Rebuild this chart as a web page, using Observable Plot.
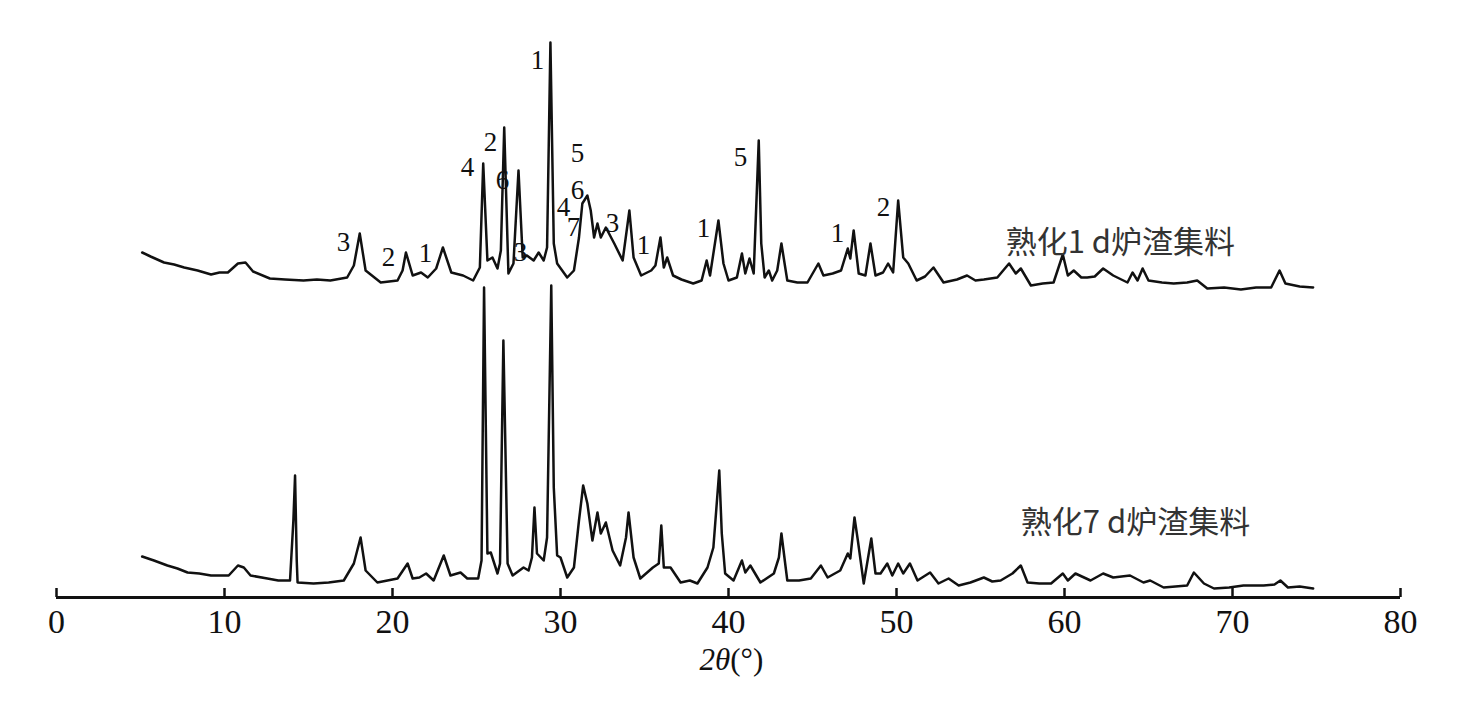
<!DOCTYPE html>
<html>
<head>
<meta charset="utf-8">
<script src="https://cdn.jsdelivr.net/npm/d3@7"></script>
<script src="https://cdn.jsdelivr.net/npm/@observablehq/plot@0.6"></script>
<style>
  body { margin: 0; background: #fff; }
  #chart svg { display: block; background: #fff; }
</style>
</head>
<body>
<div id="chart"></div>
<script>
// ---- Data ----
// 2θ positions (degrees) and intensities (a.u.) of the 1-day sample
const day1X = [5.1,5.6,6.4,7.0,7.6,8.4,9.2,9.7,10.2,10.8,11.25,11.7,12.7,13.6,14.7,15.5,16.3,17.3,17.7,18.05,18.4,19.3,20.3,20.6,20.8,21.2,21.7,22.1,22.6,23.0,23.5,24.2,24.8,25.2,25.4,25.65,25.95,26.25,26.45,26.65,26.9,27.2,27.5,27.75,28.0,28.4,28.7,29.0,29.2,29.4,29.6,29.8,30.4,30.8,31.1,31.3,31.6,31.8,32.0,32.2,32.4,32.7,33.2,33.7,34.1,34.35,34.8,35.4,35.65,35.95,36.15,36.35,36.7,37.2,37.9,38.4,38.7,38.9,39.4,39.7,40.0,40.5,40.8,41.0,41.25,41.5,41.8,41.95,42.15,42.4,42.6,42.9,43.15,43.5,44.1,44.7,45.35,45.65,46.2,46.7,47.1,47.25,47.45,47.75,48.15,48.45,48.75,49.2,49.5,49.8,50.1,50.4,50.7,51.2,51.7,52.2,52.8,53.6,54.2,54.7,55.2,56.0,56.7,57.1,57.4,58.0,58.7,59.35,59.9,60.2,60.55,61.0,61.35,61.8,62.3,62.9,63.75,64.05,64.35,64.65,65.0,65.8,66.5,67.3,67.9,68.5,69.5,70.5,71.4,72.3,72.8,73.15,74.0,74.8];
const day1I = [35,31,25,23,20,17,13,15,15,24,25,16,9,8,7,8,7,10,22,54,17,5,7,17,35,12,15,10,19,40,15,12,7,20,124,27,30,19,37,160,14,24,117,30,32,27,35,27,40,245,44,24,10,17,50,84,92,77,50,64,50,60,44,27,77,30,12,17,22,50,20,30,12,8,4,7,27,12,67,24,7,10,34,14,29,14,147,44,10,17,7,17,44,7,5,5,24,12,14,17,39,29,57,14,12,44,12,15,24,15,87,30,24,7,11,20,5,8,12,7,8,10,24,14,19,2,4,5,33,12,17,10,10,11,19,12,5,15,7,19,7,5,4,5,7,-1,0,-2,0,0,17,4,1,0];

// 2θ positions (degrees) and intensities (a.u.) of the 7-day sample
const day7X = [5.1,5.8,6.6,7.2,7.8,8.5,9.2,10.25,10.8,11.15,11.55,12.55,13.2,13.9,14.1,14.2,14.3,14.35,15.3,16.2,17.1,17.7,18.1,18.4,19.1,20.3,20.9,21.2,21.6,22.0,22.45,23.05,23.45,24.05,24.45,25.1,25.3,25.45,25.65,25.85,26.25,26.4,26.6,26.85,27.15,27.8,28.1,28.3,28.45,28.6,29.0,29.2,29.45,29.6,29.8,30.0,30.4,30.8,31.1,31.35,31.6,31.9,32.2,32.4,32.7,33.1,33.55,33.9,34.05,34.35,34.75,35.5,35.85,36.0,36.15,36.55,37.15,37.7,38.15,38.75,39.1,39.45,39.6,39.8,40.3,40.8,41.0,41.3,41.9,42.7,43.0,43.15,43.5,44.2,44.9,45.5,45.9,46.65,47.1,47.25,47.5,47.7,48.05,48.5,48.75,49.05,49.45,49.75,50.1,50.4,50.8,51.25,52.0,52.5,53.1,53.7,54.4,55.2,55.7,56.2,56.9,57.4,57.8,58.5,59.2,59.9,60.2,60.65,61.55,62.3,62.9,63.9,64.7,65.1,65.9,66.6,67.3,67.7,68.3,68.9,69.8,70.65,71.85,72.5,72.85,73.3,74.0,74.8];
const day7I = [31,27,22,19,15,14,12,12,22,20,12,9,7,7,67,112,27,5,4,5,7,24,50,17,5,9,24,9,10,14,7,32,12,15,9,9,27,300,34,35,14,24,247,24,12,20,17,30,80,34,27,50,302,100,32,30,10,20,67,102,84,47,75,54,65,37,22,50,75,30,9,20,24,62,20,20,5,7,4,20,40,117,54,14,7,27,15,22,5,14,30,54,7,7,9,22,10,17,34,29,70,47,4,49,14,14,24,12,24,14,24,7,15,4,9,2,5,10,6,7,14,22,5,4,4,14,7,14,7,14,10,12,5,7,0,1,2,15,4,-1,0,2,2,3,7,0,1,-1];

const seriesNames = ["熟化1 d炉渣集料", "熟化7 d炉渣集料"];
const seriesOffsets = [300, 0];            // vertical stacking of the two patterns
const tickValues = [0, 10, 20, 30, 40, 50, 60, 70, 80];
const axisTitleItalic = "2θ";
const axisTitleRest = "(°)";

// phase markers on the 1-day pattern
const peakText = ["3","2","1","4","2","6","3","1","5","6","4","7","3","1","1","5","1","2"];
const peakX    = [17.08,19.76,21.96,24.46,25.83,26.55,27.62,28.63,31.01,31.01,30.18,30.77,33.1,34.94,38.51,40.71,46.49,49.23];
const peakY    = [45,30,34,120,145,107,35,227,134,97,80,60,64,42,59,130,54,80];

// series label anchors (x in degrees, y in intensity of own pattern)
const labelX = [56.5, 57.4];
const labelY = [44, 64];

// ---- Build tables ----
const base = 10;
const lines = [
  ...day1X.map((x, i) => ({x, v: base + seriesOffsets[0] + day1I[i], s: seriesNames[0]})),
  ...day7X.map((x, i) => ({x, v: base + seriesOffsets[1] + day7I[i], s: seriesNames[1]}))
];
const peaks = peakText.map((t, i) => ({t, x: peakX[i], v: base + seriesOffsets[0] + peakY[i]}));
const labels = seriesNames.map((n, i) => ({n, x: labelX[i], v: base + seriesOffsets[i] + labelY[i]}));

const serif = "'Liberation Serif', 'DejaVu Serif', serif";

const chart = Plot.plot({
  width: 1480,
  height: 717,
  marginLeft: 56,
  marginRight: 80,
  marginTop: 37,
  marginBottom: 120,
  x: {domain: [0, 80], axis: null},
  y: {domain: [0, 560], axis: null},
  marks: [
    Plot.line(lines, {x: "x", y: "v", z: "s", stroke: "#111", strokeWidth: 2.5, strokeLinejoin: "round"}),
    Plot.ruleY([0], {x1: 0, x2: 80, stroke: "#111", strokeWidth: 3}),
    Plot.ruleX(tickValues, {x: d => d, y1: 0, y2: 9, stroke: "#111", strokeWidth: 2.5}),
    Plot.text(tickValues, {x: d => d, y: 0, dy: 25, text: d => String(d), fontSize: 34, fontFamily: serif, fill: "#111"}),
    Plot.text([axisTitleItalic], {x: 40.1, y: 0, dy: 63, text: d => d, textAnchor: "end", fontSize: 31, fontStyle: "italic", fontFamily: serif, fill: "#111"}),
    Plot.text([axisTitleRest], {x: 40.1, y: 0, dy: 63, text: d => d, textAnchor: "start", fontSize: 31, fontFamily: serif, fill: "#111"}),
    Plot.text(peaks, {x: "x", y: "v", text: "t", fontSize: 27, fontFamily: serif, fill: "#111"}),
    Plot.text(labels, {x: "x", y: "v", text: "n", textAnchor: "start", fontSize: 31, fontFamily: "'Noto Sans CJK SC', sans-serif", fill: "#333"})
  ]
});
document.getElementById("chart").appendChild(chart);
</script>
</body>
</html>
